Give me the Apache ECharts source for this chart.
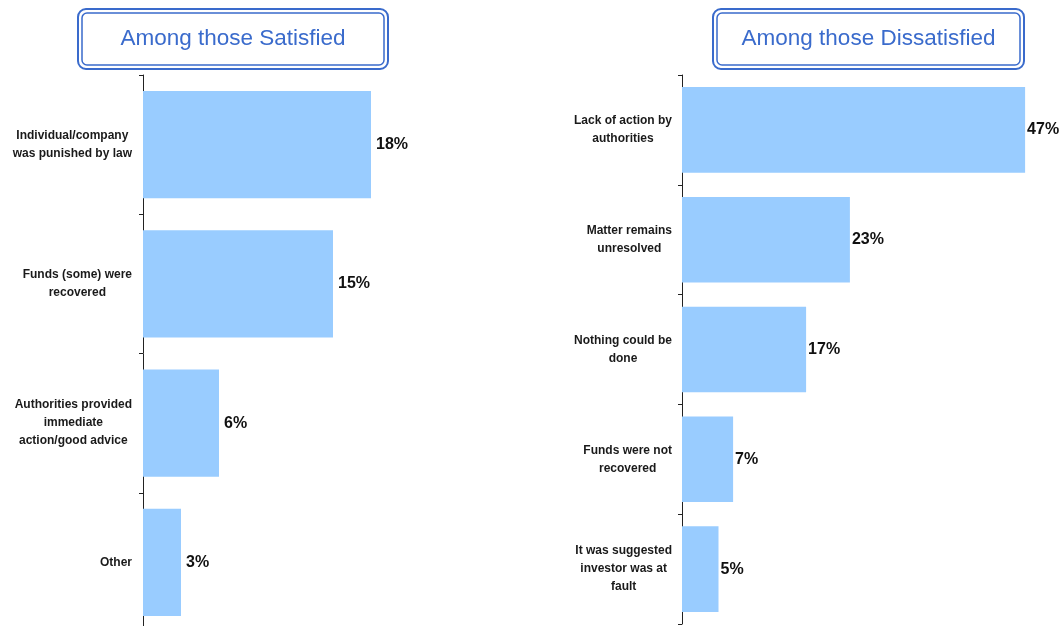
<!DOCTYPE html>
<html lang="en">
<head>
    <meta charset="UTF-8">
    <title>Satisfied vs Dissatisfied</title>
    <script src="https://cdn.jsdelivr.net/npm/echarts@6/dist/echarts.min.js"></script>
    <style>
        html, body { margin: 0; padding: 0; background: #fff; overflow: hidden; }
        /* 画布略高于窗口, 左侧坐标轴在底部被裁掉 */
        #main { width: 1059px; height: 640px; }
    </style>
</head>
<body>
<div id="main"></div>
<script>
    var satisfiedReasons = [
        'Individual/company\nwas punished by law',
        'Funds (some) were\nrecovered',
        'Authorities provided\nimmediate\naction/good advice',
        'Other'
    ];
    var satisfiedValues = [18, 15, 6, 3];

    var dissatisfiedReasons = [
        'Lack of action by\nauthorities',
        'Matter remains\nunresolved',
        'Nothing could be\ndone',
        'Funds were not\nrecovered',
        'It was suggested\ninvestor was at\nfault'
    ];
    var dissatisfiedValues = [47, 23, 17, 7, 5];

    var titles = ['Among those Satisfied', 'Among those Dissatisfied'];

    var chart = echarts.init(document.getElementById('main'));

    var font = '"Liberation Sans", Arial, Helvetica, sans-serif';
    var barColor = '#99ccff';
    var boxColor = '#3a6bcc';

    // 类目标签: 整体右对齐, 每行居中
    function catLabel(v) {
        return v.split('\n').map(function (s) { return '{c|' + s + '}'; }).join('\n');
    }

    function catAxis(idx, data, margin) {
        return {
            type: 'category',
            gridIndex: idx,
            inverse: true,
            data: data,
            axisLine: { lineStyle: { color: '#222', width: 1 } },
            axisTick: { show: true, length: 4, lineStyle: { color: '#222' } },
            axisLabel: {
                margin: margin,
                align: 'right',
                formatter: catLabel,
                rich: {
                    c: {
                        align: 'center',
                        fontFamily: font,
                        fontWeight: 'bold',
                        fontSize: 12,
                        lineHeight: 18,
                        color: '#1a1a1a'
                    }
                }
            }
        };
    }

    function valAxis(idx, max) {
        return {
            type: 'value',
            gridIndex: idx,
            min: 0,
            max: max,
            show: false
        };
    }

    function barSeries(idx, values, barPct, dist) {
        return {
            type: 'bar',
            xAxisIndex: idx,
            yAxisIndex: idx,
            data: values,
            barWidth: barPct,
            itemStyle: { color: barColor },
            label: {
                show: true,
                position: 'right',
                distance: dist,
                formatter: '{c}%',
                fontFamily: font,
                fontWeight: 'bold',
                fontSize: 16,
                color: '#111'
            },
            silent: true
        };
    }

    function titleBox(x, w, text) {
        return {
            type: 'group',
            children: [
                {
                    type: 'rect',
                    shape: { x: x, y: 9, width: w, height: 60, r: 8 },
                    style: { fill: '#fff', stroke: boxColor, lineWidth: 2 }
                },
                {
                    type: 'rect',
                    shape: { x: x + 4, y: 13, width: w - 8, height: 52, r: 5 },
                    style: { fill: 'none', stroke: boxColor, lineWidth: 1.5 }
                },
                {
                    type: 'text',
                    x: x + w / 2,
                    y: 39,
                    style: {
                        text: text,
                        fill: boxColor,
                        font: '22.5px ' + font,
                        textAlign: 'center',
                        textVerticalAlign: 'middle'
                    }
                }
            ]
        };
    }

    var option = {
        animation: false,
        backgroundColor: '#fff',
        grid: [
            { left: 143, top: 75, width: 380, height: 557, containLabel: false },
            { left: 682, top: 75, width: 365, height: 549, containLabel: false }
        ],
        xAxis: [valAxis(0, 30), valAxis(1, 50)],
        yAxis: [catAxis(0, satisfiedReasons, 11), catAxis(1, dissatisfiedReasons, 10)],
        series: [
            barSeries(0, satisfiedValues, '77%', 5),
            barSeries(1, dissatisfiedValues, '78%', 2)
        ],
        graphic: [
            titleBox(78, 310, titles[0]),
            titleBox(713, 311, titles[1])
        ]
    };

    chart.setOption(option);
</script>
</body>
</html>
